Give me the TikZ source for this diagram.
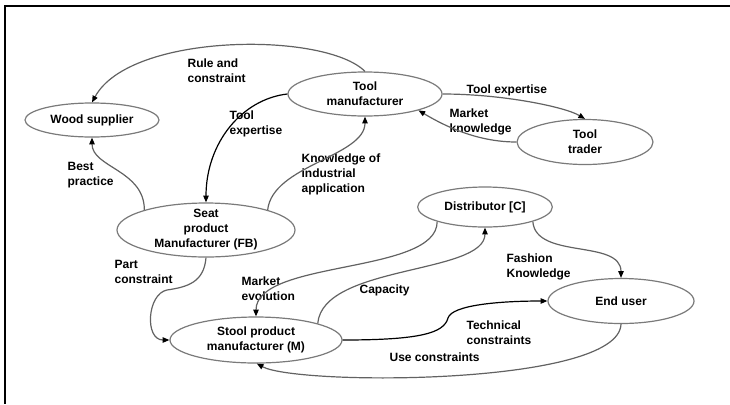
\documentclass[tikz,border=0pt]{standalone}
\usepackage{fontspec}
\setmainfont{Liberation Sans}
\usetikzlibrary{shapes.geometric, arrows.meta}
\definecolor{rim}{HTML}{7A7A7A}
\definecolor{wire}{HTML}{626262}

\begin{document}
\begin{tikzpicture}[
  x=0.75pt, y=-0.75pt,
  every node/.style={font=\fontsize{9}{11.25}\selectfont\bfseries},
  actor/.style={ellipse, draw=rim, line width=0.9pt, inner sep=0pt, align=center},
  note/.style={align=left, anchor=west, inner sep=0pt},
  every path/.style={line width=0.9pt},
  >={Triangle[length=5pt, width=4pt, color=black]}
]
  \useasboundingbox (0,0) rectangle (730,404);
  \draw[line width=2pt] (730,6) -- (5,6) -- (5,404);

  % actors
  \node[actor, minimum width=100.5pt, minimum height=25.5pt] (wood) at (92,120) {Wood supplier};
  \node[actor, minimum width=115.5pt, minimum height=33pt] (toolm) at (365,94) {Tool\\manufacturer};
  \node[actor, minimum width=102pt, minimum height=33.75pt] (trader) at (585,142) {Tool\\trader};
  \node[actor, minimum width=133.5pt, minimum height=40.5pt, inner ysep=-1.5pt] (seat) at (206,230) {Seat\\product\\Manufacturer (FB)};
  \node[actor, minimum width=101pt, minimum height=30pt] (dist) at (485,207) {Distributor [C]};
  \node[actor, minimum width=129pt, minimum height=34.5pt] (stool) at (256,340) {Stool product\\manufacturer (M)};
  \node[actor, minimum width=109.5pt, minimum height=33.75pt] (user) at (621,301) {End user};

  % flow labels
  \node[note] (rule) at (187,71) {Rule and\\constraint};
  \node[note] (texp) at (229,124) {Tool\\expertise};
  \node[note] (best) at (67,175) {Best\\practice};
  \node[note] (know) at (301,174) {Knowledge of\\industrial\\application};
  \node[note] (texp2) at (466,90) {Tool expertise};
  \node[note] (mknow) at (449,122) {Market\\knowledge};
  \node[note] (part) at (114,272) {Part\\constraint};
  \node[note] (mevo) at (241,289) {Market\\evolution};
  \node[note] (cap) at (359,290) {Capacity};
  \node[note] (fash) at (506,267) {Fashion\\Knowledge};
  \node[note] (tech) at (466,333) {Technical\\constraints};
  \node[note] (use) at (389,357) {Use constraints};

  % flows
  \draw[->, wire] (toolm.north) .. controls +(-40,-40) and +(38,-70) .. (wood.north);
  \draw[->, black] (toolm.west) .. controls +(-45,5) and +(0,-60) .. (seat.north);
  \draw[->, wire] (seat.162) .. controls +(0,-40) and +(0,30) .. (wood.south);
  \draw[->, wire] (seat.18) .. controls +(5,-45) and +(0,40) .. (toolm.south);
  \draw[->, wire] (toolm.east) .. controls +(60,0) and +(-20,-12) .. (trader.north);
  \draw[->, wire] (trader.west) .. controls +(-40,0) and +(25,15) .. (toolm.-17);
  \draw[->, wire] (seat.south) .. controls +(-2,25) and +(20,-3) .. (167,290)
    .. controls +(-20,4) and +(-25,0) .. (stool.west);
  \draw[->, wire] (dist.197) .. controls +(0,53) and +(0,-57) .. (stool.north);
  \draw[->, wire] (stool.15) .. controls +(5,-59) and +(0,47) .. (dist.south);
  \draw[->, wire] (dist.-17) .. controls +(3,38) and +(0,-39) .. (user.north);
  \draw[->, black] (stool.east) .. controls +(78,0) and +(-4,15) .. (448,318)
    .. controls +(4,-13) and +(-48,0) .. (user.west);
  \draw[->, wire] (user.south) .. controls +(-2,62) and +(40,22) .. (stool.-88);
\end{tikzpicture}
\end{document}
